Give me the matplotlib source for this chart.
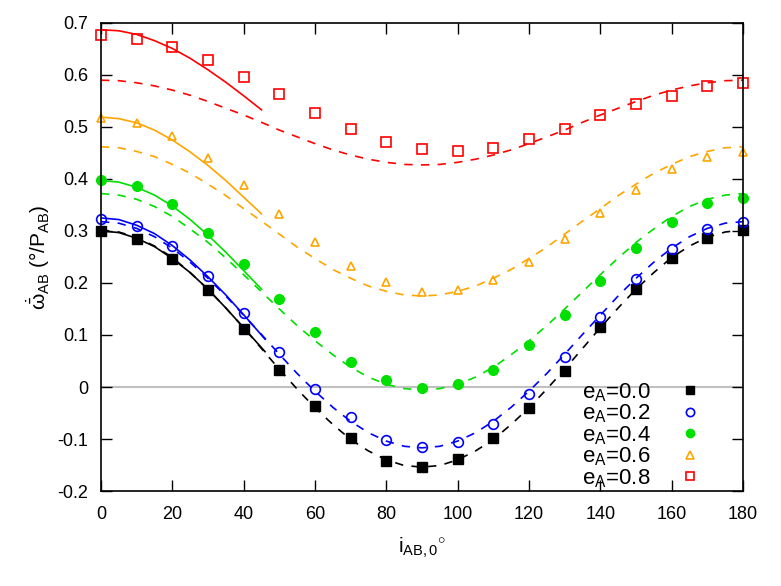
#!/usr/bin/env python3

import numpy as np
import matplotlib
matplotlib.use('Agg')
import matplotlib.pyplot as plt

plt.rcParams['font.family'] = ['Liberation Sans', 'DejaVu Sans']
plt.rcParams['mathtext.fontset'] = 'custom'
plt.rcParams['mathtext.rm'] = 'Liberation Sans'
plt.rcParams['mathtext.it'] = 'Liberation Sans'

# inclination grid of the simulation points (deg)
inc = [0, 10, 20, 30, 40, 50, 60, 70, 80, 90, 100, 110, 120, 130, 140, 150, 160, 170, 180]

# simulation points
pts_00 = [0.300, 0.285, 0.246, 0.186, 0.111, 0.033, -0.037, -0.098, -0.142, -0.154, -0.138, -0.098, -0.040, 0.031, 0.115, 0.188, 0.248, 0.286, 0.301]
pts_02 = [0.323, 0.310, 0.272, 0.213, 0.143, 0.067, -0.003, -0.058, -0.102, -0.115, -0.106, -0.071, -0.014, 0.058, 0.135, 0.208, 0.265, 0.303, 0.317]
pts_04 = [0.398, 0.387, 0.352, 0.297, 0.237, 0.169, 0.105, 0.048, 0.013, -0.002, 0.006, 0.033, 0.080, 0.138, 0.203, 0.267, 0.317, 0.353, 0.363]
pts_06 = [0.517, 0.508, 0.483, 0.441, 0.388, 0.332, 0.279, 0.233, 0.201, 0.183, 0.187, 0.206, 0.240, 0.285, 0.335, 0.379, 0.419, 0.443, 0.451]
pts_08 = [0.677, 0.670, 0.653, 0.629, 0.596, 0.563, 0.526, 0.497, 0.472, 0.458, 0.454, 0.460, 0.476, 0.497, 0.523, 0.544, 0.560, 0.579, 0.584]

# dashed curves, full range, every 5 deg
inc_d = list(range(0, 181, 5))
dash_00 = [0.302, 0.298, 0.288, 0.271, 0.249, 0.220, 0.188, 0.152, 0.114, 0.074, 0.034, -0.004, -0.040, -0.072, -0.101, -0.123, -0.140, -0.151, -0.154,
           -0.151, -0.140, -0.123, -0.101, -0.072, -0.040, -0.004, 0.034, 0.074, 0.114, 0.152, 0.188, 0.220, 0.249, 0.271, 0.288, 0.298, 0.302]
dash_02 = [0.318, 0.315, 0.305, 0.289, 0.267, 0.240, 0.209, 0.175, 0.138, 0.101, 0.063, 0.026, -0.008, -0.039, -0.066, -0.088, -0.104, -0.114, -0.117,
           -0.114, -0.104, -0.088, -0.066, -0.039, -0.008, 0.026, 0.063, 0.101, 0.138, 0.175, 0.209, 0.240, 0.267, 0.289, 0.305, 0.315, 0.318]
dash_04 = [0.372, 0.369, 0.361, 0.347, 0.328, 0.304, 0.278, 0.248, 0.216, 0.183, 0.150, 0.118, 0.089, 0.062, 0.038, 0.019, 0.005, -0.003, -0.006,
           -0.003, 0.005, 0.019, 0.038, 0.062, 0.089, 0.118, 0.150, 0.183, 0.216, 0.248, 0.278, 0.304, 0.328, 0.347, 0.361, 0.369, 0.372]
dash_06 = [0.462, 0.460, 0.453, 0.443, 0.428, 0.411, 0.390, 0.368, 0.343, 0.319, 0.294, 0.269, 0.247, 0.226, 0.209, 0.194, 0.184, 0.177, 0.175,
           0.177, 0.184, 0.194, 0.209, 0.226, 0.247, 0.269, 0.294, 0.319, 0.343, 0.368, 0.390, 0.411, 0.428, 0.443, 0.453, 0.460, 0.462]
dash_08 = [0.590, 0.589, 0.585, 0.579, 0.571, 0.561, 0.549, 0.536, 0.523, 0.509, 0.494, 0.481, 0.468, 0.456, 0.446, 0.438, 0.432, 0.428, 0.427,
           0.428, 0.432, 0.438, 0.446, 0.456, 0.468, 0.481, 0.494, 0.509, 0.523, 0.536, 0.549, 0.561, 0.571, 0.579, 0.585, 0.589, 0.590]

# solid curves (low inclination only)
inc_s = [0, 5, 10, 15, 20, 25, 30, 35, 40, 45]
inc_s2 = [0, 5, 10, 15, 20, 25, 30, 35, 40, 46]
sol_00 = [0.300, 0.297, 0.286, 0.270, 0.247, 0.220, 0.188, 0.152, 0.114, 0.068]
sol_02 = [0.325, 0.322, 0.311, 0.295, 0.272, 0.244, 0.212, 0.177, 0.139, 0.092]
sol_04 = [0.397, 0.394, 0.384, 0.369, 0.348, 0.322, 0.292, 0.259, 0.224, 0.188]
sol_06 = [0.519, 0.516, 0.508, 0.494, 0.475, 0.452, 0.426, 0.397, 0.365, 0.333]
sol_08 = [0.687, 0.685, 0.678, 0.666, 0.651, 0.632, 0.610, 0.586, 0.560, 0.533]

labels = ['e$_{\\rm A}$=0.0', 'e$_{\\rm A}$=0.2', 'e$_{\\rm A}$=0.4', 'e$_{\\rm A}$=0.6', 'e$_{\\rm A}$=0.8']

fig = plt.figure(figsize=(7.81, 5.86), dpi=100)
ax = fig.add_axes([0.1293, 0.1621, 0.822, 0.7987])

ax.axhline(0, color='#c0c0c0', lw=1.5, zorder=0)

black = '#000000'
blue = '#0000ff'
green = '#00e000'
orange = '#ffa500'
red = '#ff0000'
ds = (0, (5, 5))
lw = 1.2

ax.plot(inc_d, dash_00, color=black, lw=lw, ls=ds)
ax.plot(inc_d, dash_02, color=blue, lw=lw, ls=ds)
ax.plot(inc_d, dash_04, color=green, lw=lw, ls=ds)
ax.plot(inc_d, dash_06, color=orange, lw=lw, ls=ds)
ax.plot(inc_d, dash_08, color=red, lw=lw, ls=ds)

ax.plot(inc_s2, sol_00, color=black, lw=lw)
ax.plot(inc_s2, sol_02, color=blue, lw=lw)
ax.plot(inc_s, sol_04, color=green, lw=lw)
ax.plot(inc_s, sol_06, color=orange, lw=lw)
ax.plot(inc_s, sol_08, color=red, lw=lw)

ax.plot(inc, pts_00, ls='none', marker='s', ms=6.5, color=black, label=labels[0], clip_on=False)
ax.plot(inc, pts_02, ls='none', marker='o', ms=7, mfc='none', mec=blue, mew=1.2, label=labels[1], clip_on=False)
ax.plot(inc, pts_04, ls='none', marker='o', ms=7, color=green, label=labels[2], clip_on=False)
ax.plot(inc, pts_06, ls='none', marker='^', ms=6, mfc='none', mec=orange, mew=1.2, label=labels[3], clip_on=False)
ax.plot(inc, pts_08, ls='none', marker='s', ms=7, mfc='none', mec=red, mew=1.2, label=labels[4], clip_on=False)

ax.set_xlim(0, 180)
ax.set_ylim(-0.2, 0.7)
ax.set_xticks(np.arange(0, 181, 20))
ax.set_yticks(np.arange(-0.2, 0.71, 0.1))
ax.set_yticklabels(['-0.2', '-0.1', '0', '0.1', '0.2', '0.3', '0.4', '0.5', '0.6', '0.7'])
ax.tick_params(direction='in', top=True, right=True, length=8, width=1, labelsize=13)
ax.tick_params(axis='x', pad=11)
ax.tick_params(axis='y', pad=9)
for s in ax.spines.values():
    s.set_linewidth(1.2)

ax.set_xlabel('$\\mathrm{i}_{\\rm AB,0}$$^{\\circ}$', fontsize=15, labelpad=9)
ax.set_ylabel('$\\dot{\\bar{\\omega}}_{\\rm AB}$ (°/P$_{\\rm AB}$)', fontsize=15, labelpad=4)

ax.legend(loc='upper left', bbox_to_anchor=(0.725, 0.268), frameon=False, markerfirst=False,
          fontsize=16, handlelength=1.5, handletextpad=1.0, labelspacing=-0.05, borderpad=0.2,
          markerscale=0.85)

fig.savefig('out.png', dpi=100)
